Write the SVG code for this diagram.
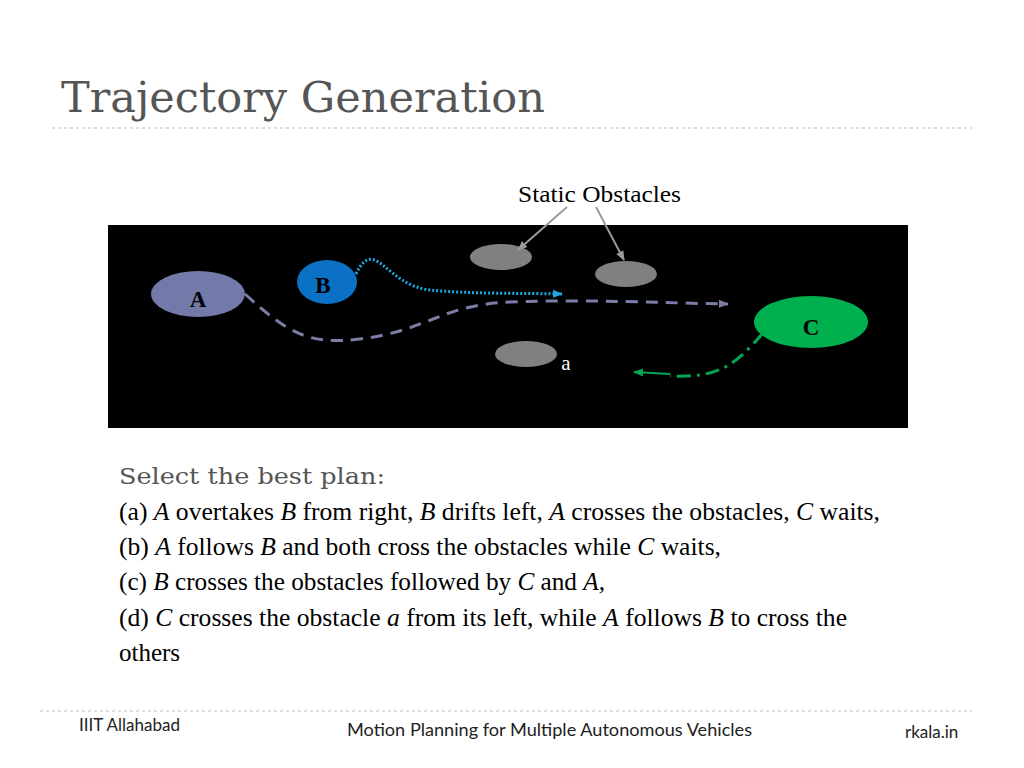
<svg xmlns="http://www.w3.org/2000/svg" width="1024" height="768" viewBox="0 0 1024 768">
<defs>
<style>
.serif{font-family:"Liberation Serif","Times New Roman",serif}
.body{font-family:"Liberation Serif",serif;font-size:25px;fill:#000}
.foot{font-family:"Lato","Liberation Sans",sans-serif;font-size:17px;fill:#222}
.obs{fill:#808080}
</style>
<marker id="ag" markerWidth="10" markerHeight="10" refX="9" refY="5" orient="auto" markerUnits="userSpaceOnUse"><path d="M0,1 L10,5 L0,9 z" fill="#9a9a9a"/></marker>
<marker id="ab" markerWidth="10" markerHeight="10" refX="9" refY="5" orient="auto" markerUnits="userSpaceOnUse"><path d="M0,1 L10,5 L0,9 z" fill="#1fa9e1"/></marker>
<marker id="ap" markerWidth="10" markerHeight="10" refX="9" refY="5" orient="auto" markerUnits="userSpaceOnUse"><path d="M0,1 L10,5 L0,9 z" fill="#7a7ea6"/></marker>
<marker id="agr" markerWidth="10" markerHeight="10" refX="9" refY="5" orient="auto" markerUnits="userSpaceOnUse"><path d="M0,1 L10,5 L0,9 z" fill="#00a650"/></marker>
</defs>
<rect width="1024" height="768" fill="#fff"/>
<text x="61" y="112" font-family="DejaVu Serif,serif" font-size="42" fill="#555" textLength="484" lengthAdjust="spacingAndGlyphs">Trajectory Generation</text>
<line x1="52" y1="128" x2="972" y2="128" stroke="#bbb" stroke-dasharray="3,3"/>
<rect x="108" y="225" width="800" height="203" fill="#000"/>
<text x="518" y="202" class="serif" font-size="24" textLength="163" lengthAdjust="spacingAndGlyphs">Static Obstacles</text>
<g id="obstacles">
<ellipse class="obs" cx="501" cy="257" rx="31" ry="13"/>
<ellipse class="obs" cx="626" cy="274" rx="31" ry="13"/>
<ellipse class="obs" cx="526" cy="354" rx="31" ry="13"/>
<text x="566" y="370" class="serif" font-size="21" fill="#fff" text-anchor="middle">a</text>
</g>
<g id="A"><ellipse cx="198" cy="294" rx="47" ry="23" fill="#7379a8"/><text x="198" y="307" class="serif" font-size="23" font-weight="bold" text-anchor="middle" fill="#000">A</text></g>
<g id="B"><ellipse cx="327" cy="282" rx="30" ry="22" fill="#0a71c4"/><text x="323" y="293" class="serif" font-size="23" font-weight="bold" text-anchor="middle" fill="#000">B</text></g>
<g id="C"><ellipse cx="811" cy="322" rx="57" ry="26" fill="#00b04f"/><text x="811" y="335" class="serif" font-size="23" font-weight="bold" text-anchor="middle" fill="#000">C</text></g>
<g id="connectors" fill="none">
<path d="M567,207 L518,250" stroke="#9a9a9a" stroke-width="2" marker-end="url(#ag)"/>
<path d="M596,207 L624,260" stroke="#9a9a9a" stroke-width="2" marker-end="url(#ag)"/>
<path d="M356,274 C375,235 385,285 430,290 C470,294 520,293 562,294" stroke="#1fa9e1" stroke-width="3" stroke-dasharray="2,2" marker-end="url(#ab)"/>
<path d="M245,294 C290,335 310,345 360,339 C430,330 440,305 510,302 C590,299 660,303 728,304" stroke="#7a7ea6" stroke-width="3" stroke-dasharray="12,8" marker-end="url(#ap)"/>
<path d="M763,333 C735,365 720,378 670,376" stroke="#00a650" stroke-width="3" stroke-dasharray="14,6,3,6"/>
<path d="M670,374 L634,372" stroke="#00a650" stroke-width="2" marker-end="url(#agr)"/>
</g>
<text x="119" y="484" font-family="DejaVu Serif,serif" font-size="22" fill="#555" textLength="266" lengthAdjust="spacingAndGlyphs">Select the best plan:</text>
<text class="body" x="119" y="520" textLength="761" lengthAdjust="spacingAndGlyphs">(a) <tspan font-style="italic">A</tspan> overtakes <tspan font-style="italic">B</tspan> from right, <tspan font-style="italic">B</tspan> drifts left, <tspan font-style="italic">A</tspan> crosses the obstacles, <tspan font-style="italic">C</tspan> waits,</text>
<text class="body" x="119" y="555" textLength="602" lengthAdjust="spacingAndGlyphs">(b) <tspan font-style="italic">A</tspan> follows <tspan font-style="italic">B</tspan> and both cross the obstacles while <tspan font-style="italic">C</tspan> waits,</text>
<text class="body" x="119" y="590" textLength="486" lengthAdjust="spacingAndGlyphs">(c) <tspan font-style="italic">B</tspan> crosses the obstacles followed by <tspan font-style="italic">C</tspan> and <tspan font-style="italic">A,</tspan></text>
<text class="body" x="119" y="626" textLength="728" lengthAdjust="spacingAndGlyphs">(d) <tspan font-style="italic">C</tspan> crosses the obstacle <tspan font-style="italic">a</tspan> from its left, while <tspan font-style="italic">A</tspan> follows <tspan font-style="italic">B</tspan> to cross the</text>
<text class="body" x="119" y="661">others</text>
<line x1="40" y1="711" x2="972" y2="711" stroke="#bbb" stroke-dasharray="3,3"/>
<text class="foot" x="79" y="731">IIIT Allahabad</text>
<text class="foot" x="347" y="736" textLength="405" lengthAdjust="spacingAndGlyphs">Motion Planning for Multiple Autonomous Vehicles</text>
<text class="foot" x="905" y="738">rkala.in</text>
</svg>
